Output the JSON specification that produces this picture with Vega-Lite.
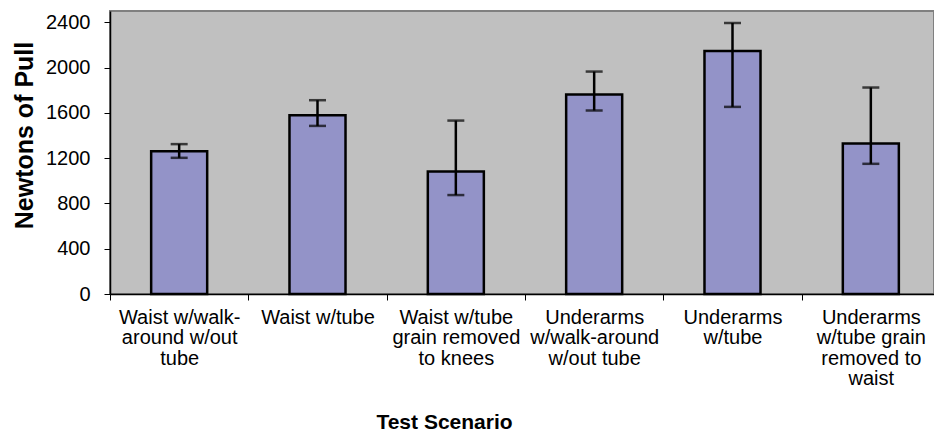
{
  "$schema": "https://vega.github.io/schema/vega-lite/v6.json",
  "width": 824,
  "height": 283,
  "autosize": {"type": "none"},
  "padding": {"left": 110, "top": 11, "right": 0, "bottom": 142},
  "background": "white",
  "config": {
    "font": "Liberation Sans",
    "view": {"fill": "#C0C0C0", "stroke": "#808080", "strokeWidth": 2}
  },
  "data": {
    "values": [
      {"scenario": "Waist w/walk-|around w/out|tube", "pull": 1262, "lo": 1203, "hi": 1324},
      {"scenario": "Waist w/tube", "pull": 1579, "lo": 1485, "hi": 1712},
      {"scenario": "Waist w/tube|grain removed|to knees", "pull": 1083, "lo": 874, "hi": 1532},
      {"scenario": "Underarms|w/walk-around|w/out tube", "pull": 1762, "lo": 1621, "hi": 1965},
      {"scenario": "Underarms|w/tube", "pull": 2147, "lo": 1653, "hi": 2394},
      {"scenario": "Underarms|w/tube grain|removed to|waist", "pull": 1329, "lo": 1150, "hi": 1824}
    ]
  },
  "encoding": {
    "x": {
      "field": "scenario",
      "type": "nominal",
      "sort": null,
      "scale": {"range": [0, 830], "paddingInner": 0, "paddingOuter": 0},
      "axis": {
        "title": "Test Scenario",
        "titleFontSize": 21,
        "titleFontWeight": "bold",
        "titleColor": "black",
        "titleX": 334,
        "titleY": 134,
        "titleBaseline": "alphabetic",
        "titleAnchor": null,
        "labelExpr": "split(datum.label, '|')",
        "labelAngle": 0,
        "labelFontSize": 20,
        "labelLineHeight": 20.5,
        "labelColor": "black",
        "labelLimit": 0,
        "labelOverlap": false,
        "labelBaseline": "top",
        "labelPadding": 7,
        "tickBand": "extent",
        "tickSize": 6,
        "tickColor": "black",
        "domainColor": "black",
        "domainWidth": 1.5
      }
    }
  },
  "layer": [
    {
      "mark": {"type": "bar", "width": {"band": 0.405}, "fill": "#9393C8", "stroke": "black", "strokeWidth": 2.5},
      "encoding": {
        "y": {
          "field": "pull",
          "type": "quantitative",
          "scale": {"domain": [0, 2500], "nice": false},
          "axis": {
            "title": "Newtons of Pull",
            "titleFontSize": 25,
            "titleFontWeight": "bold",
            "titleColor": "black",
            "titleX": -86,
            "titleY": 124,
            "titleBaseline": "middle",
            "titleAngle": -90,
            "titleAnchor": null,
            "values": [0, 400, 800, 1200, 1600, 2000, 2400],
            "format": "d",
            "grid": false,
            "labelFontSize": 20,
            "labelColor": "black",
            "labelPadding": 14,
            "tickSize": 6,
            "tickColor": "black",
            "domainColor": "black",
            "domainWidth": 1.5
          }
        }
      }
    },
    {
      "mark": {"type": "rule", "color": "black", "strokeWidth": 2.5},
      "encoding": {
        "y": {"field": "lo", "type": "quantitative"},
        "y2": {"field": "hi"}
      }
    },
    {
      "mark": {"type": "tick", "color": "black", "thickness": 2.5, "size": 17},
      "encoding": {"y": {"field": "lo", "type": "quantitative"}}
    },
    {
      "mark": {"type": "tick", "color": "black", "thickness": 2.5, "size": 17},
      "encoding": {"y": {"field": "hi", "type": "quantitative"}}
    }
  ]
}
